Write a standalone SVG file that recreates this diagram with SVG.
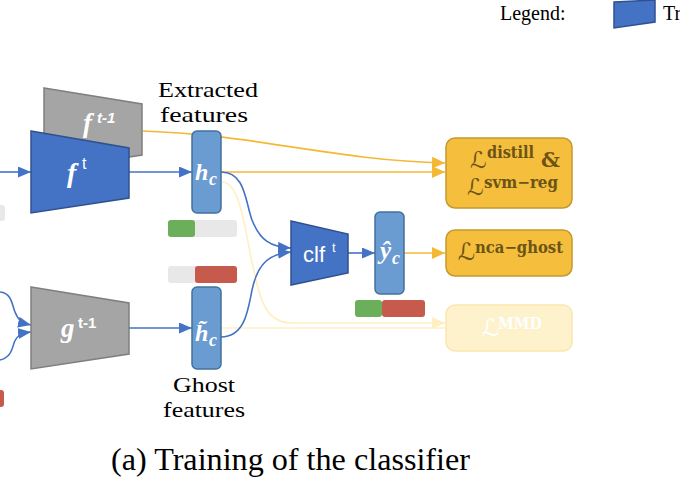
<svg xmlns="http://www.w3.org/2000/svg" width="680" height="500" viewBox="0 0 680 500">
<defs>
<style>
.serif{font-family:"Liberation Serif","Times New Roman",serif;fill:#000}
.tblue{fill:#4472C4;stroke:#2F528F;stroke-width:1.5}
.tgray{fill:#A5A5A5;stroke:#7F7F7F;stroke-width:1.5}
.feat{fill:#6A9BD1;stroke:#41719C;stroke-width:1.5}
.loss{fill:#F5BE3C;stroke:#C39A2E;stroke-width:1.5}
.lossf{fill:#FEF2CD;stroke:#FBE6AE;stroke-width:1.5}
.math{font-family:"Liberation Serif",serif;font-style:italic;font-weight:bold;fill:#fff}
.sup{font-family:"Liberation Sans",sans-serif;fill:#fff}
.ltxt{font-family:"DejaVu Serif","DejaVu Sans",serif;fill:#6B5416}
.scr{font-family:"DejaVu Sans","DejaVu Serif",sans-serif}
.blue{fill:none;stroke:#4472C4;stroke-width:1.6}
.yel{fill:none;stroke:#F4B834;stroke-width:1.6}
.fade{fill:none;stroke:#FFEFC2;stroke-width:1.6}
.bg{fill:#E8E8E8}
.gr{fill:#6BAF5A}
.rd{fill:#C65A4D}
</style>
<marker id="ab" markerUnits="userSpaceOnUse" markerWidth="13" markerHeight="11" refX="13" refY="5.5" orient="auto"><path d="M0,0 L13,5.5 L0,11 z" fill="#4472C4"/></marker>
<marker id="ay" markerUnits="userSpaceOnUse" markerWidth="13" markerHeight="12" refX="13" refY="6" orient="auto"><path d="M0,0 L13,6 L0,12 z" fill="#F4B834"/></marker>
<marker id="af" markerUnits="userSpaceOnUse" markerWidth="13" markerHeight="12" refX="13" refY="6" orient="auto"><path d="M0,0 L13,6 L0,12 z" fill="#FFEFC2"/></marker>
</defs>
<rect width="680" height="500" fill="#fff"/>

<g id="legend">
<text class="serif" x="500" y="20" font-size="20">Legend:</text>
<polygon class="tblue" points="614,2 655,0 655,22 614,28" stroke-width="1"/>
<text class="serif" x="663" y="20" font-size="20">Tr</text>
</g>

<g id="connectors">
<path class="fade" d="M222,182 C240,182 245,230 252,262 C260,300 265,323 292,323 L445,323" marker-end="url(#af)"/>
<path class="fade" d="M221,328 L445,328"/>
<path class="yel" d="M143,131 C260,135 330,160 445,163" marker-end="url(#ay)"/>
<path class="yel" d="M221,172 L445,172" marker-end="url(#ay)"/>
<path class="yel" d="M404,253 L445,253" marker-end="url(#ay)"/>
<path class="blue" d="M0,172 L31,172" marker-end="url(#ab)"/>
<path class="blue" d="M129,172 L192,172" marker-end="url(#ab)"/>
<path class="blue" d="M129,328 L192,328" marker-end="url(#ab)"/>
<path class="blue" d="M0,292 C12,293 12,305 15,312 C18,320 22,323 31,325" marker-end="url(#ab)"/>
<path class="blue" d="M0,360 C10,358 12,350 14,343 C17,335 22,333 31,332" marker-end="url(#ab)"/>
<path class="blue" d="M221,172 C245,172 245,200 252,220 C260,240 270,247 291,248" marker-end="url(#ab)"/>
<path class="blue" d="M221,337 C245,337 248,310 252,290 C258,262 270,254 291,252" marker-end="url(#ab)"/>
<path class="blue" d="M348,253 L375,253" marker-end="url(#ab)"/>
</g>

<g id="f_prev">
<polygon class="tgray" points="44,88 142,104 142,155 44,170"/>
<text x="83" y="132"><tspan class="math" font-size="27">f</tspan><tspan class="sup" font-weight="bold" font-style="italic" font-size="15" x="97" y="123">t-1</tspan></text>
</g>

<g id="f_t">
<polygon class="tblue" points="31,131 129,148 129,198 31,213"/>
<text x="67" y="182"><tspan class="math" font-size="28">f</tspan><tspan class="sup" font-size="16" x="82" y="169">t</tspan></text>
</g>

<g id="bar_left">
<rect class="bg" x="-4" y="205" width="9" height="16" rx="3"/>
<rect class="rd" x="-4" y="390" width="8" height="17" rx="3"/>
</g>

<g id="g_prev">
<polygon class="tgray" points="31,287 129,303 129,354 31,369"/>
<text x="61" y="337"><tspan class="math" font-size="27">g</tspan><tspan class="sup" font-weight="bold" font-size="15" x="78" y="328">t-1</tspan></text>
</g>

<g id="h_c">
<rect class="feat" x="192" y="131" width="29" height="82" rx="5"/>
<text x="195" y="180"><tspan class="math" font-size="24">h</tspan><tspan class="math" font-size="18" x="209" y="185">c</tspan></text>
</g>

<g id="label_extracted">
<text class="serif" x="208" y="97" font-size="22" text-anchor="middle" textLength="100" lengthAdjust="spacingAndGlyphs">Extracted</text>
<text class="serif" x="204" y="122" font-size="22" text-anchor="middle" textLength="88" lengthAdjust="spacingAndGlyphs">features</text>
</g>

<g id="bar_h">
<rect class="bg" x="168" y="220" width="69" height="17" rx="3"/>
<rect class="gr" x="168" y="220" width="27" height="17" rx="3"/>
</g>

<g id="bar_ht">
<rect class="bg" x="168" y="266" width="69" height="17" rx="3"/>
<rect class="rd" x="195" y="266" width="42" height="17" rx="3"/>
</g>

<g id="h_tilde">
<rect class="feat" x="192" y="287" width="29" height="82" rx="5"/>
<text x="195" y="341"><tspan class="math" font-size="24">h̃</tspan><tspan class="math" font-size="18" x="209" y="346">c</tspan></text>
</g>

<g id="label_ghost">
<text class="serif" x="204" y="392" font-size="22" text-anchor="middle" textLength="62" lengthAdjust="spacingAndGlyphs">Ghost</text>
<text class="serif" x="204" y="417" font-size="22" text-anchor="middle" textLength="82" lengthAdjust="spacingAndGlyphs">features</text>
</g>

<g id="clf">
<polygon class="tblue" points="291,221 348,234 348,273 291,285"/>
<text x="303" y="262"><tspan class="sup" font-size="22">clf</tspan><tspan class="sup" font-size="13" x="332" y="252">t</tspan></text>
</g>

<g id="y_hat">
<rect class="feat" x="375" y="212" width="29" height="82" rx="5"/>
<text x="380" y="259"><tspan class="math" font-size="25">ŷ</tspan><tspan class="math" font-size="18" x="392" y="264">c</tspan></text>
</g>

<g id="bar_y">
<rect class="gr" x="355" y="300" width="27" height="17" rx="3"/>
<rect class="rd" x="382" y="300" width="43" height="17" rx="3"/>
</g>

<g id="loss_distill">
<rect class="loss" x="446" y="138" width="126" height="70" rx="9"/>
<text class="ltxt"><tspan class="scr" x="470" y="168" font-size="23">ℒ</tspan><tspan x="487" y="158" font-size="16" font-weight="bold" textLength="47" lengthAdjust="spacingAndGlyphs">distill</tspan><tspan x="541" y="167" font-size="21" font-weight="bold">&amp;</tspan></text>
<text class="ltxt"><tspan class="scr" x="467" y="195" font-size="23">ℒ</tspan><tspan x="484" y="188" font-size="16" font-weight="bold" textLength="74" lengthAdjust="spacingAndGlyphs">svm−reg</tspan></text>
</g>

<g id="loss_nca">
<rect class="loss" x="446" y="230" width="126" height="46" rx="9"/>
<text class="ltxt"><tspan class="scr" x="458" y="260" font-size="24">ℒ</tspan><tspan x="475" y="253" font-size="16" font-weight="bold" textLength="88" lengthAdjust="spacingAndGlyphs">nca−ghost</tspan></text>
</g>

<g id="loss_mmd">
<rect class="lossf" x="446" y="305" width="126" height="46" rx="9"/>
<text class="ltxt" style="fill:#fff"><tspan class="scr" x="482" y="336" font-size="24">ℒ</tspan><tspan x="498" y="329" font-size="16" font-weight="bold" textLength="44" lengthAdjust="spacingAndGlyphs">MMD</tspan></text>
</g>

<g id="caption">
<text class="serif" x="111" y="470" font-size="31" textLength="359" lengthAdjust="spacingAndGlyphs">(a) Training of the classifier</text>
</g>
</svg>
